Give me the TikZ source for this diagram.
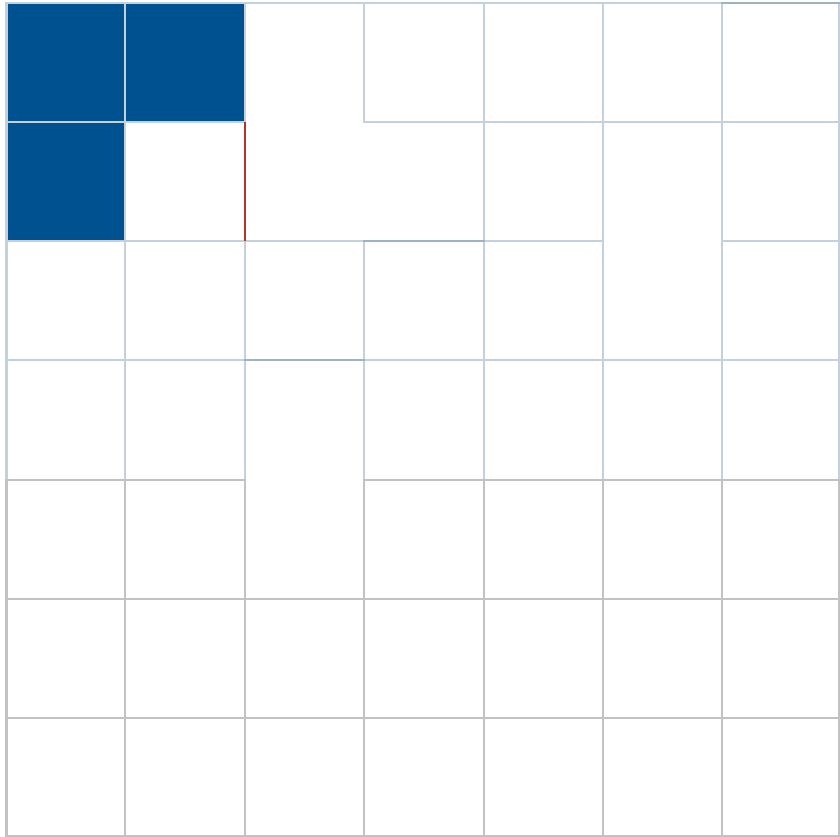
\documentclass[tikz,border=0pt]{standalone}
\definecolor{cellblue}{HTML}{00518F}
\definecolor{wallred}{HTML}{B0342A}
\definecolor{wallblue}{HTML}{C3D1DE}
\definecolor{walldark}{HTML}{9DB2C6}
\definecolor{wallgray}{HTML}{C2C2C2}
\tikzset{
  wallline/.style={line width=2.2pt, line cap=rect},
  filledcell/.style={fill=cellblue, draw=none},
  redwall/.style={draw=wallred, line width=2.4pt}
}
\begin{document}
\begin{tikzpicture}[x=1pt,y=-1pt]
\useasboundingbox (0,0) rectangle (840,837);
\fill[white] (0,0) rectangle (840,837);
% blue cells
\fill[filledcell] (6.5,3) rectangle (125,122);
\fill[filledcell] (125,3) rectangle (245,122);
\fill[filledcell] (6.5,122) rectangle (125,241);
% vertical walls
\foreach \r in {0,...,6}{
  \foreach \k in {0,...,7}{
    \pgfmathsetmacro{\xx}{{6.5,125,245,364,484,603,722,839}[\k]}
    \pgfmathsetmacro{\ya}{{3,122,241,360,480,599,718,836}[\r]}
    \pgfmathsetmacro{\yb}{{3,122,241,360,480,599,718,836}[\r+1]}
    \pgfmathtruncatemacro{\skip}{(\r==1 && (\k==3 || \k==2)) ? 1 : 0}
    \pgfmathsetmacro{\colsel}{\r<4 ? 1 : 0}
    \ifnum\skip=0
      \ifdim\colsel pt>0.5pt
        \draw[wallline, draw=wallblue] (\xx,\ya) -- (\xx,\yb);
      \else
        \draw[wallline, draw=wallgray] (\xx,\ya) -- (\xx,\yb);
      \fi
    \fi
  }
}
% horizontal walls
\foreach \j in {0,...,7}{
  \foreach \c in {0,...,6}{
    \pgfmathsetmacro{\yy}{{3,122,241,360,480,599,718,836}[\j]}
    \pgfmathsetmacro{\xa}{{6.5,125,245,364,484,603,722,839}[\c]}
    \pgfmathsetmacro{\xb}{{6.5,125,245,364,484,603,722,839}[\c+1]}
    \pgfmathtruncatemacro{\skip}{((\j==1 && \c==2) || (\j==2 && \c==5) || (\j==4 && \c==2)) ? 1 : 0}
    \pgfmathtruncatemacro{\colsel}{\j<4 ? 1 : 0}
    \ifnum\skip=0
      \ifnum\colsel=1
        \draw[wallline, draw=wallblue] (\xa,\yy) -- (\xb,\yy);
      \else
        \draw[wallline, draw=wallgray] (\xa,\yy) -- (\xb,\yy);
      \fi
    \fi
  }
}
% a few darker wall segments
\draw[wallline, draw=walldark] (364,241) -- (484,241);
\draw[wallline, draw=walldark] (245,360) -- (364,360);
\draw[wallline, draw=walldark] (722,3) -- (839,3);
% red wall
\draw[redwall] (245,122) -- (245,241);
\end{tikzpicture}
\end{document}
